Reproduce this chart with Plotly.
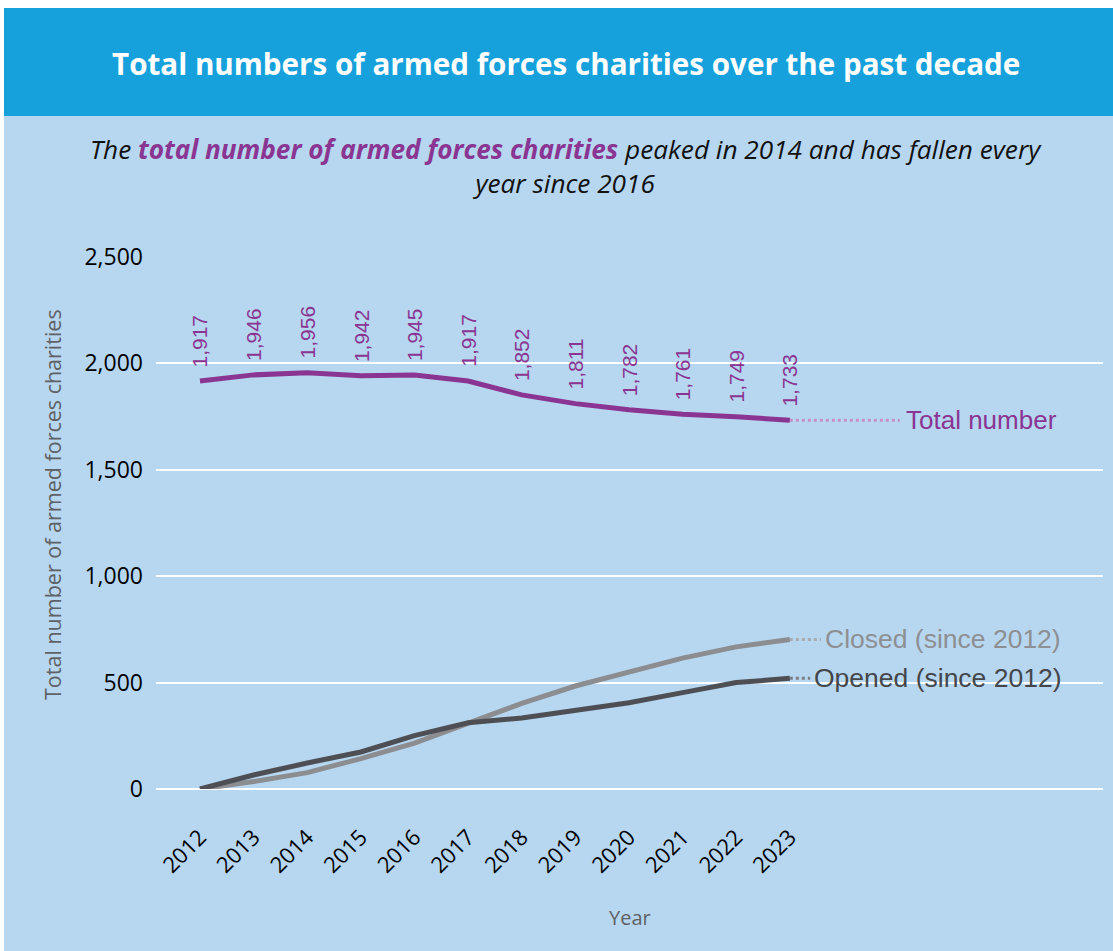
import plotly.graph_objects as go

years = [2012, 2013, 2014, 2015, 2016, 2017, 2018, 2019, 2020, 2021, 2022, 2023]
total = [1917, 1946, 1956, 1942, 1945, 1917, 1852, 1811, 1782, 1761, 1749, 1733]
closed = [0, 35, 77, 143, 216, 311, 402, 484, 547, 615, 668, 703]
opened = [0, 66, 122, 174, 251, 311, 334, 370, 405, 453, 500, 520]
y_ticks = [0, 500, 1000, 1500, 2000, 2500]

W, H = 1113, 951
L, R, T, B = 156, 10, 257, 162
ph = H - T - B
pw = W - L - R

def py(pix):
    return (H - B - pix) / ph

def px(pix):
    return (pix - L) / pw

PURPLE = "#8A3592"
LIGHTPURPLE = "#C68FC6"
CLOSED = "#8C8D90"
OPENED = "#4E4F55"
LIGHTBLUE = "#B7D7F0"
HEADER = "#17A1DC"

fig = go.Figure()

last = years[-1]
# leader lines
leaders = [
    (total[-1], 2025.05, LIGHTPURPLE),
    (closed[-1], 2023.58, "#A9ABAF"),
    (opened[-1], 2023.38, "#7C7E84"),
]
for val, xe, col in leaders:
    fig.add_trace(go.Scatter(x=[last, xe], y=[val, val], mode="lines",
                             line=dict(color=col, width=3, dash="dot"),
                             hoverinfo="skip", showlegend=False, cliponaxis=False))

fig.add_trace(go.Scatter(x=years, y=closed, mode="lines", line=dict(color=CLOSED, width=5),
                         showlegend=False, cliponaxis=False))
fig.add_trace(go.Scatter(x=years, y=opened, mode="lines", line=dict(color=OPENED, width=5),
                         showlegend=False, cliponaxis=False))
fig.add_trace(go.Scatter(x=years, y=total, mode="lines", line=dict(color=PURPLE, width=5),
                         showlegend=False, cliponaxis=False))

annotations = []
for yr, v in zip(years, total):
    annotations.append(dict(x=yr, y=v, xref="x", yref="y", text=f"{v:,}", textangle=-90,
                            showarrow=False, yanchor="bottom", yshift=12,
                            font=dict(family="Liberation Sans, Arial", size=21, color=PURPLE)))

annotations += [
    dict(x=2025.12, y=total[-1], xref="x", yref="y", text="Total number", showarrow=False,
         xanchor="left", yanchor="middle", font=dict(family="Liberation Sans, Arial", size=26, color=PURPLE)),
    dict(x=2023.62, y=closed[-1], xref="x", yref="y", text="Closed (since 2012)", showarrow=False,
         xanchor="left", yanchor="middle", font=dict(family="Liberation Sans, Arial", size=26.5, color="#8E8F92")),
    dict(x=2023.42, y=opened[-1], xref="x", yref="y", text="Opened (since 2012)", showarrow=False,
         xanchor="left", yanchor="middle", font=dict(family="Liberation Sans, Arial", size=26.5, color="#45464B")),
    dict(x=px(52), y=py(505), xref="paper", yref="paper", text="Total number of armed forces charities",
         textangle=-90, showarrow=False, xanchor="center", yanchor="middle",
         font=dict(family="Open Sans", size=21.5, color="#5E6166")),
    dict(x=px(630), y=py(917), xref="paper", yref="paper", text="Year", showarrow=False,
         xanchor="center", yanchor="middle", font=dict(family="Open Sans", size=20, color="#5E6166")),
    dict(x=px(566), y=py(63), xref="paper", yref="paper",
         text="<b>Total numbers of armed forces charities over the past decade</b>", showarrow=False,
         xanchor="center", yanchor="middle", font=dict(family="Open Sans", size=29.6, color="white")),
    dict(x=px(566), y=py(166), xref="paper", yref="paper",
         text=("<i>The <b><span style='color:%s'>total number of armed forces charities</span></b> "
               "peaked in 2014 and has fallen every<br>year since 2016</i>") % PURPLE,
         showarrow=False, xanchor="center", yanchor="middle",
         font=dict(family="Open Sans", size=26.2, color="#111111")),
]

shapes = [
    dict(type="rect", xref="paper", yref="paper", x0=px(-5), x1=px(W + 5), y0=py(8), y1=py(-5),
         fillcolor="white", line=dict(width=0), layer="below"),
    dict(type="rect", xref="paper", yref="paper", x0=px(-5), x1=px(4), y0=py(H + 5), y1=py(-5),
         fillcolor="white", line=dict(width=0), layer="below"),
    dict(type="rect", xref="paper", yref="paper", x0=px(4), x1=px(W + 5), y0=py(116), y1=py(8),
         fillcolor=HEADER, line=dict(width=0), layer="below"),
]

fig.update_layout(
    width=W, height=H,
    margin=dict(l=L, r=R, t=T, b=B, pad=0),
    paper_bgcolor=LIGHTBLUE, plot_bgcolor="rgba(0,0,0,0)",
    showlegend=False,
    annotations=annotations, shapes=shapes,
    xaxis=dict(range=[2011.18, 2028.84], tickmode="array", tickvals=years,
               ticktext=[str(y) for y in years], tickangle=-45, showgrid=False, zeroline=False,
               showline=False, ticklabelstandoff=30,
               tickfont=dict(family="Open Sans", size=22, color="black")),
    yaxis=dict(range=[0, 2500], tickmode="array", tickvals=y_ticks,
               ticktext=[f"{v:,}" for v in y_ticks], showgrid=True, gridcolor="white", gridwidth=1.5,
               zeroline=True, zerolinecolor="white", zerolinewidth=1.5, showline=False,
               ticklabelstandoff=12,
               tickfont=dict(family="Open Sans", size=23, color="black")),
)

fig.write_html("out.html")
